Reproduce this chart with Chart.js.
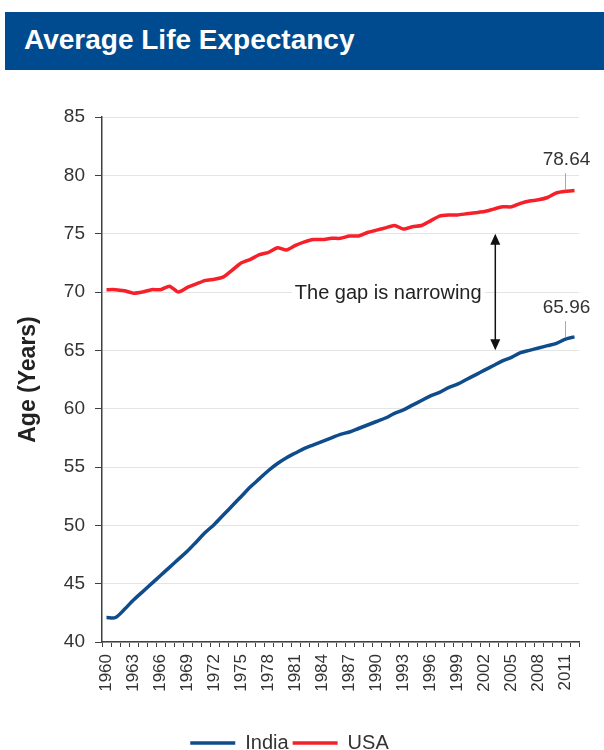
<!DOCTYPE html>
<html>
<head>
<meta charset="utf-8">
<script src="https://cdn.jsdelivr.net/npm/chart.js@4/dist/chart.umd.min.js"></script>
<style>
  html, body { margin: 0; padding: 0; background: #fff; overflow: hidden; }
  body { width: 604px; height: 750px; position: relative; font-family: "Liberation Sans", Arial, sans-serif; }
  #bar { position: absolute; left: 5px; top: 12px; width: 599px; height: 58px; background: #004b8f; }
  #bar h1 { margin: 0; position: absolute; left: 19px; top: 12px; color: #fff; font: bold 28px/32px "Liberation Sans", Arial, sans-serif; }
  #wrap { position: absolute; left: 0; top: 80px; width: 604px; height: 683px; }
</style>
</head>
<body>
<div id="bar"><h1>Average Life Expectancy</h1></div>
<div id="wrap"><canvas id="c" width="604" height="683"></canvas></div>
<script>
// Years on the category axis
const years = [];
for (let y = 1960; y <= 2012; y++) years.push(String(y));

// Life expectancy at birth, years
const india = [
  42.1, 42.1, 42.8, 43.6, 44.3, 45.0, 45.7, 46.4, 47.1, 47.8,
  48.6, 49.4, 50.1, 50.9, 51.7, 52.5, 53.3, 54.0, 54.7, 55.3,
  55.8, 56.2, 56.6, 56.9, 57.2, 57.5, 57.8, 58.0, 58.3, 58.6,
  58.9, 59.2, 59.6, 59.9, 60.3, 60.7, 61.1, 61.4, 61.8, 62.1,
  62.5, 62.9, 63.3, 63.7, 64.1, 64.4, 64.8, 65.0, 65.2, 65.4,
  65.6, 65.96, 66.15
];
const usa = [
  70.2, 70.2, 70.1, 69.9, 70.0, 70.2, 70.2, 70.5, 70.0, 70.4,
  70.7, 71.0, 71.1, 71.3, 71.9, 72.5, 72.8, 73.2, 73.4, 73.8,
  73.6, 74.0, 74.3, 74.5, 74.5, 74.6, 74.6, 74.8, 74.8, 75.1,
  75.3, 75.5, 75.7, 75.4, 75.6, 75.7, 76.1, 76.5, 76.6, 76.6,
  76.7, 76.8, 76.9, 77.1, 77.3, 77.3, 77.6, 77.8, 77.9, 78.1,
  78.5, 78.64, 78.7
];
const yTicks = [40, 45, 50, 55, 60, 65, 70, 75, 80, 85];

// Point whose value is called out, and the gap note
const calloutIndex = 51;
const gapNote = 'The gap is narrowing';
const gapArrow = { index: 43.2, from: 75, to: 65 };
const gapTextIndex = 31.3;

const textFont = '"Liberation Sans", Arial, sans-serif';

const notes = {
  id: 'notes',
  afterDatasetsDraw(chart) {
    const { ctx, scales: { x, y } } = chart;
    ctx.save();
    // value callouts with short leader lines
    [usa, india].forEach((arr) => {
      const v = arr[calloutIndex];
      const px = x.getPixelForValue(calloutIndex);
      const py = y.getPixelForValue(v);
      ctx.strokeStyle = '#a8a8a8';
      ctx.lineWidth = 1;
      ctx.beginPath();
      ctx.moveTo(px, py - 2);
      ctx.lineTo(px, py - 18);
      ctx.stroke();
      ctx.fillStyle = '#333';
      ctx.font = '19px ' + textFont;
      ctx.textAlign = 'center';
      ctx.textBaseline = 'bottom';
      ctx.fillText(v.toFixed(2), px + 1, py - 22);
    });
    // gap note
    const tx = x.getPixelForValue(gapTextIndex);
    const ty = y.getPixelForValue(70);
    ctx.font = '20px ' + textFont;
    const w = ctx.measureText(gapNote).width;
    ctx.fillStyle = '#fff';
    ctx.fillRect(tx - w / 2 - 3, ty - 12, w + 6, 24);
    ctx.fillStyle = '#222';
    ctx.textAlign = 'center';
    ctx.textBaseline = 'middle';
    ctx.fillText(gapNote, tx, ty + 1);
    // double-headed arrow
    const ax = x.getPixelForValue(gapArrow.index);
    const ay1 = y.getPixelForValue(gapArrow.from);
    const ay2 = y.getPixelForValue(gapArrow.to);
    ctx.strokeStyle = '#111';
    ctx.fillStyle = '#111';
    ctx.lineWidth = 1.5;
    ctx.beginPath();
    ctx.moveTo(ax, ay1 + 6);
    ctx.lineTo(ax, ay2 - 6);
    ctx.stroke();
    ctx.beginPath();
    ctx.moveTo(ax, ay1); ctx.lineTo(ax - 5, ay1 + 11); ctx.lineTo(ax + 5, ay1 + 11); ctx.closePath();
    ctx.fill();
    ctx.beginPath();
    ctx.moveTo(ax, ay2); ctx.lineTo(ax - 5, ay2 - 11); ctx.lineTo(ax + 5, ay2 - 11); ctx.closePath();
    ctx.fill();
    ctx.restore();
  }
};

new Chart(document.getElementById('c'), {
  type: 'line',
  data: {
    labels: years,
    datasets: [
      { label: 'India', data: india, borderColor: '#0f4c8c', backgroundColor: '#0f4c8c', borderWidth: 3.5, pointRadius: 0, tension: 0.3 },
      { label: 'USA', data: usa, borderColor: '#f5202a', backgroundColor: '#f5202a', borderWidth: 3.5, pointRadius: 0, tension: 0.2 }
    ]
  },
  options: {
    responsive: false,
    animation: false,
    layout: { padding: { top: 37, right: 25, left: 0, bottom: 0 } },
    plugins: {
      legend: {
        position: 'bottom',
        labels: {
          usePointStyle: true,
          pointStyle: 'line',
          pointStyleWidth: 45,
          padding: 4,
          color: '#333',
          font: { family: textFont, size: 20 }
        }
      },
      tooltip: { enabled: false }
    },
    scales: {
      x: {
        offset: true,
        afterFit: (s) => { s.height = 87; },
        grid: { display: true, drawOnChartArea: false, offset: true, tickLength: 5, tickColor: '#404040' },
        border: { color: '#404040', width: 1.5 },
        ticks: {
          autoSkip: false,
          minRotation: 90,
          maxRotation: 90,
          padding: 7,
          color: '#333',
          font: { family: textFont, size: 17 },
          callback: (v, i) => (i % 3 === 0 ? years[i] : '')
        }
      },
      y: {
        min: yTicks[0],
        max: yTicks[yTicks.length - 1],
        afterFit: (s) => { s.width = 102; },
        afterBuildTicks: (s) => { s.ticks = yTicks.map(v => ({ value: v })); },
        grid: { color: '#e4e4e4', lineWidth: 1, tickLength: 7, tickColor: '#404040' },
        border: { color: '#404040', width: 1.5 },
        ticks: { padding: 10, color: '#333', font: { family: textFont, size: 19 } },
        title: {
          display: true,
          text: 'Age (Years)',
          color: '#222',
          padding: { top: 15, bottom: 0 },
          font: { family: textFont, size: 23, weight: 'bold' }
        }
      }
    }
  },
  plugins: [notes]
});
</script>
</body>
</html>
